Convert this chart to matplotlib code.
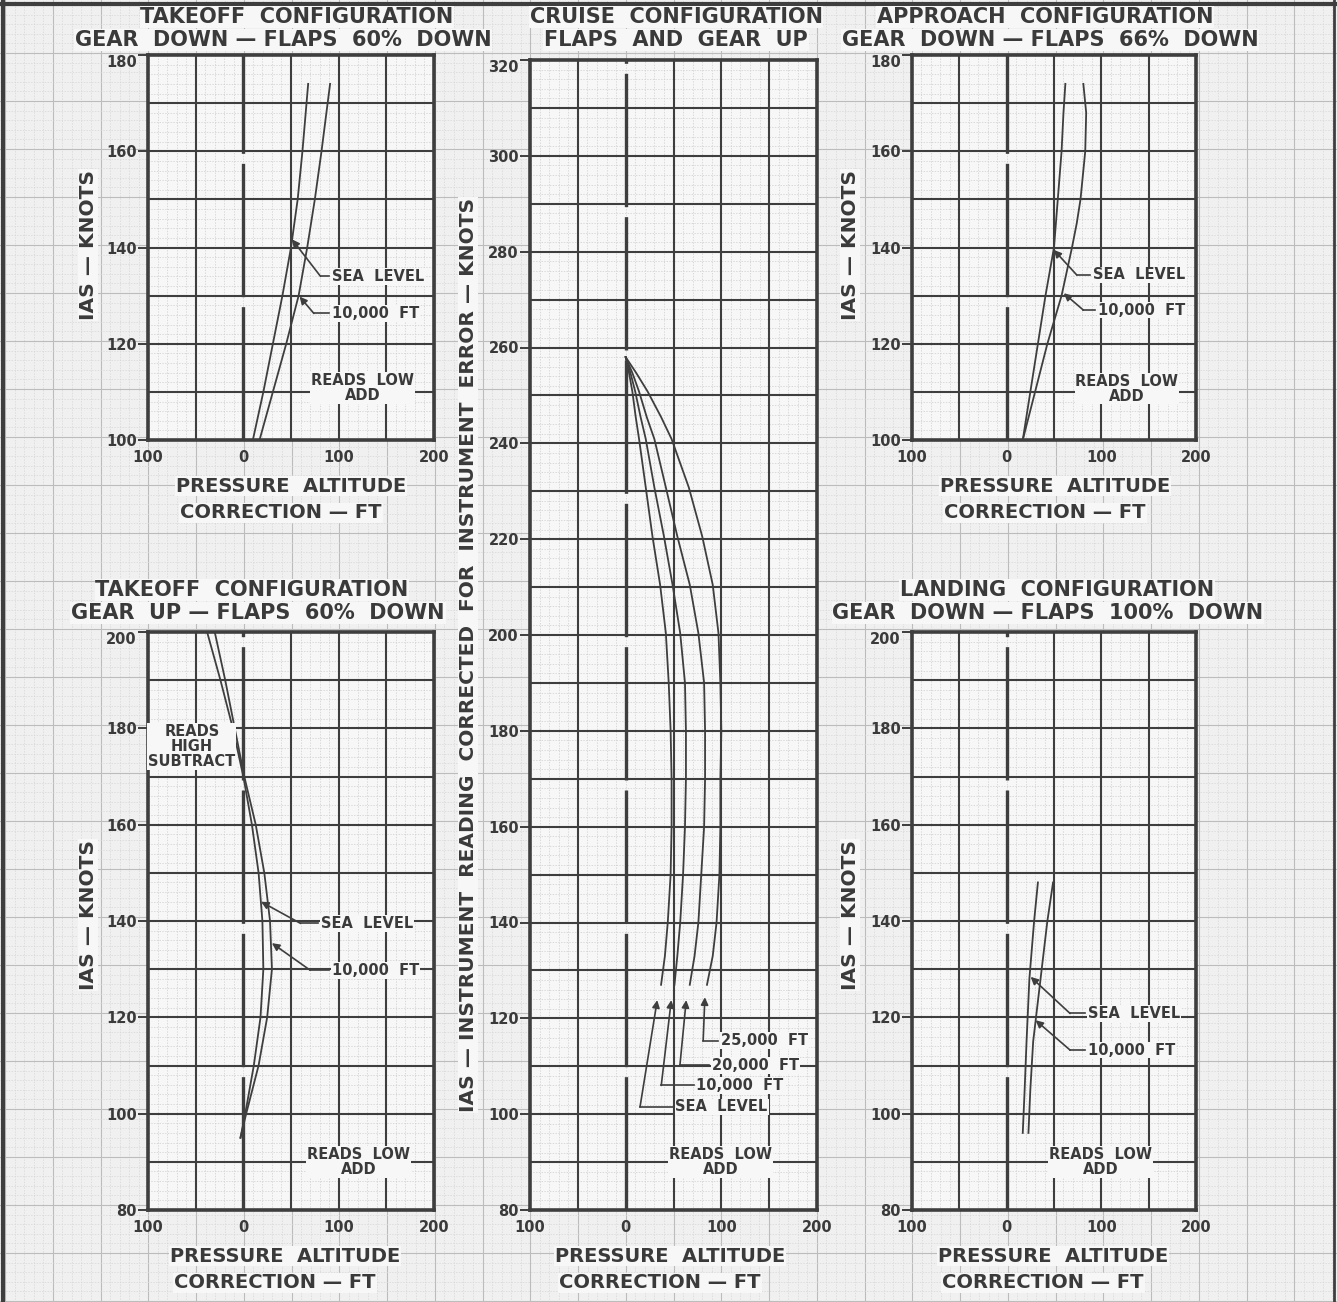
import numpy as np
import matplotlib
matplotlib.use("Agg")
import matplotlib.pyplot as plt

# ---- data (x = pressure altitude correction, ft; y = IAS, knots)
to_down_knots = [100, 110, 120, 130, 140, 150, 160, 174]
to_down_sl = [10, 21, 31, 41, 50, 57, 62, 68]
to_down_10k = [17, 31, 45, 58, 67, 75, 82, 91]

appr_knots = [100, 110, 120, 130, 140, 145, 150, 160, 168, 174]
appr_sl = [17, 25, 33, 41, 50, 52, 54, 58, 60, 62]
appr_10k = [17, 30, 43, 58, 69, 74, 78, 83, 84, 81]

to_up_knots = [95, 100, 110, 120, 130, 140, 150, 160, 170, 180, 190, 200]
to_up_sl = [-3, 2, 11, 18, 21, 20, 16, 9, 0, -11, -24, -38]
to_up_10k = [-3, 3, 16, 25, 30, 28, 22, 13, 1, -9, -19, -30]

land_sl_knots = [96, 105, 115, 128, 140, 148]
land_sl = [17, 19, 21, 24, 29, 33]
land_10k_knots = [96, 105, 115, 120, 130, 140, 148]
land_10k = [23, 25, 28, 31, 37, 43, 49]

cruise_knots = [258, 254.7, 250.8, 245.5, 240.9, 230.8, 220.6, 210.5, 200.4,
                190, 180, 170, 160, 150, 140, 133, 127]
cruise_sl = [0, 3.5, 7, 10.5, 14, 21, 28, 36, 42, 45, 47, 48, 48, 47, 44, 41, 37]
cruise_10k = [0, 5, 10, 15.6, 21, 30, 40, 49, 57, 62, 63, 63, 62, 60, 57, 54, 51]
cruise_20k = [0, 7, 14, 22, 30, 42, 54, 67, 76, 82, 83, 83, 82, 79, 76, 72, 67]
cruise_25k = [0, 11, 23, 37, 48, 66, 80, 91, 97, 99, 100, 99, 99, 98, 95, 91, 85]

x_ticks = [-100, 0, 100, 200]
x_ticklabels = ["100", "0", "100", "200"]

W, H = 1337, 1302
INK = "#3e3e3e"
TXT = "#3a3a3a"
PAPER = "#f7f7f7"
BOLD = dict(fontweight="bold", color=TXT, family="DejaVu Sans")
WBOX = dict(facecolor=PAPER, edgecolor="none", pad=0.6)

fig = plt.figure(figsize=(W / 100, H / 100), dpi=100)
fig.patch.set_facecolor("#f0f0f0")

# graph paper background
bg = fig.add_axes([0, 0, 1, 1], zorder=-5)
bg.set_xlim(0, W)
bg.set_ylim(H, 0)
bg.axis("off")
for i, x in enumerate(np.arange(5, W, 47.75 / 5)):
    major = i % 5 == 0
    bg.axvline(x, color="#bcbcbc" if major else "#d6d6d6", lw=0.8 if major else 0.5,
               ls="-" if major else (0, (2, 2)))
for i, y in enumerate(np.arange(5, H, 48.0 / 5)):
    major = i % 5 == 0
    bg.axhline(y, color="#bcbcbc" if major else "#d6d6d6", lw=0.8 if major else 0.5,
               ls="-" if major else (0, (2, 2)))
bg.plot([0, W], [4, 4], color=INK, lw=3)
bg.plot([3, 3], [0, H], color=INK, lw=3)
bg.plot([W - 3, W - 3], [0, H], color=INK, lw=2)


def ftext(x, y, s, **kw):
    return fig.text(x / W, 1 - y / H, s, **kw)


def panel(x0, y0, x1, y1, ylo, yhi):
    ax = fig.add_axes([x0 / W, 1 - y1 / H, (x1 - x0) / W, (y1 - y0) / H])
    ax.set_xlim(-100, 200)
    ax.set_ylim(ylo, yhi)
    ax.set_facecolor(PAPER)
    for v in np.arange(-90, 200, 10):
        ax.axvline(v, color="#cdcdcd", lw=0.5, ls=(0, (2, 2)), zorder=0)
    for v in np.arange(ylo + 2, yhi, 2):
        ax.axhline(v, color="#cdcdcd", lw=0.5, ls=(0, (2, 2)), zorder=0)
    for v in (-50, 50, 100, 150):
        ax.axvline(v, color=INK, lw=1.5, zorder=1)
    for v in range(ylo + 10, yhi, 10):
        ax.axhline(v, color=INK, lw=1.5, zorder=1)
    ax.axvline(0, color=INK, lw=2.4, ls=(0, (40, 3)), zorder=1)
    for s in ax.spines.values():
        s.set_linewidth(2.6)
        s.set_color(INK)
    ax.set_xticks(x_ticks)
    ax.set_xticklabels(x_ticklabels, fontsize=10.5, **BOLD)
    ax.tick_params(axis="x", length=0, pad=7)
    ax.set_yticks(range(ylo, yhi + 1, 20))
    ax.set_yticklabels([str(v) for v in range(ylo, yhi + 1, 20)], fontsize=10.5, **BOLD)
    ax.get_yticklabels()[-1].set_va("top")
    ax.tick_params(axis="y", length=7, width=1.4, color=INK, pad=1)
    return ax


def curve(ax, xs, ys):
    ax.plot(xs, ys, color=INK, lw=1.3, zorder=3, solid_joinstyle="round")


def leader(ax, label, tip, elbow, end, fs=10.5):
    ax.annotate("", xy=tip, xytext=elbow,
                arrowprops=dict(arrowstyle="-|>", color=INK, lw=1.2, mutation_scale=11,
                                shrinkA=0, shrinkB=0), zorder=4)
    ax.plot([elbow[0], end[0]], [elbow[1], elbow[1]], color=INK, lw=1.2, zorder=4)
    ax.text(end[0] + 3, elbow[1], label, ha="left", va="center", fontsize=fs,
            bbox=WBOX, zorder=5, fontweight="semibold", color=TXT)


def note(ax, x, y, s):
    ax.text(x, y, s, ha="center", va="center", fontsize=10.5, linespacing=1.0,
            bbox=WBOX, zorder=5, fontweight="semibold", color=TXT)


def xlabel(xc, ytop):
    ftext(xc, ytop, "PRESSURE  ALTITUDE", ha="center", va="center", fontsize=14, bbox=WBOX, **BOLD)
    ftext(xc - 10, ytop + 27, "CORRECTION — FT", ha="center", va="center", fontsize=14, bbox=WBOX, **BOLD)


def title(xc, y, l1, l2, dx=0):
    ftext(xc, y, l1, ha="center", va="center", fontsize=15, bbox=WBOX, **BOLD)
    ftext(xc + dx, y + 23, l2, ha="center", va="center", fontsize=15, bbox=WBOX, **BOLD)


# ---- takeoff, gear down
a1 = panel(148, 55, 434, 440, 100, 180)
curve(a1, to_down_sl, to_down_knots)
curve(a1, to_down_10k, to_down_knots)
leader(a1, "SEA  LEVEL", (51, 141.7), (81, 134), (90, 134))
leader(a1, "10,000  FT", (59, 129.8), (74, 126.3), (90, 126.3))
note(a1, 125, 110.8, "READS  LOW\nADD")
title(297, 17, "TAKEOFF  CONFIGURATION", "GEAR  DOWN — FLAPS  60%  DOWN", dx=-14)
xlabel(291, 486)

# ---- approach
a3 = panel(912, 55, 1196, 440, 100, 180)
curve(a3, appr_sl, appr_knots)
curve(a3, appr_10k, appr_knots)
leader(a3, "SEA  LEVEL", (49.8, 139.5), (74, 134.3), (88, 134.3))
leader(a3, "10,000  FT", (60.3, 130.5), (81, 127), (93, 127))
note(a3, 127, 110.7, "READS  LOW\nADD")
title(1045, 17, "APPROACH  CONFIGURATION", "GEAR  DOWN — FLAPS  66%  DOWN", dx=5)
xlabel(1055, 486)

# ---- takeoff, gear up
a4 = panel(148, 632, 434, 1210, 80, 200)
curve(a4, to_up_sl, to_up_knots)
curve(a4, to_up_10k, to_up_knots)
leader(a4, "SEA  LEVEL", (18.6, 144), (60, 139.5), (78, 139.5))
leader(a4, "10,000  FT", (30, 135.4), (70, 129.8), (90, 129.8))
note(a4, -54, 176.2, "READS\nHIGH\nSUBTRACT")
note(a4, 121, 90, "READS  LOW\nADD")
title(252, 590, "TAKEOFF  CONFIGURATION", "GEAR  UP — FLAPS  60%  DOWN", dx=6)
xlabel(285, 1256)

# ---- landing
a5 = panel(912, 632, 1196, 1210, 80, 200)
curve(a5, land_sl, land_sl_knots)
curve(a5, land_10k, land_10k_knots)
leader(a5, "SEA  LEVEL", (25.3, 128.4), (67, 120.8), (83, 120.8))
leader(a5, "10,000  FT", (30.5, 119.4), (67, 113.2), (83, 113.2))
note(a5, 99, 90, "READS  LOW\nADD")
title(1057, 590, "LANDING  CONFIGURATION", "GEAR  DOWN — FLAPS  100%  DOWN", dx=-9)
xlabel(1053, 1256)

# ---- cruise
a2 = panel(530, 60, 817, 1210, 80, 320)
for xs in (cruise_sl, cruise_10k, cruise_20k, cruise_25k):
    curve(a2, xs, cruise_knots)
leader(a2, "25,000  FT", (82.8, 124.4), (81, 115.3), (97, 115.3))
leader(a2, "20,000  FT", (63.3, 123.8), (56.7, 110.2), (87, 110.2))
leader(a2, "10,000  FT", (47.7, 123.8), (37.2, 106), (71, 106))
leader(a2, "SEA  LEVEL", (33, 123.8), (15, 101.5), (49, 101.5))
note(a2, 99, 90, "READS  LOW\nADD")
title(676, 17, "CRUISE  CONFIGURATION", "FLAPS  AND  GEAR  UP")
xlabel(670, 1256)

# ---- y labels
for x, y in ((88, 245), (88, 915), (850, 245), (850, 915)):
    ftext(x, y, "IAS — KNOTS", rotation=90, ha="center", va="center", fontsize=14.5, bbox=WBOX, **BOLD)
ftext(468, 655, "IAS — INSTRUMENT  READING  CORRECTED  FOR  INSTRUMENT  ERROR — KNOTS",
      rotation=90, ha="center", va="center", fontsize=14.5, bbox=WBOX, **BOLD)

fig.savefig("out.png", dpi=100, facecolor=fig.get_facecolor())
